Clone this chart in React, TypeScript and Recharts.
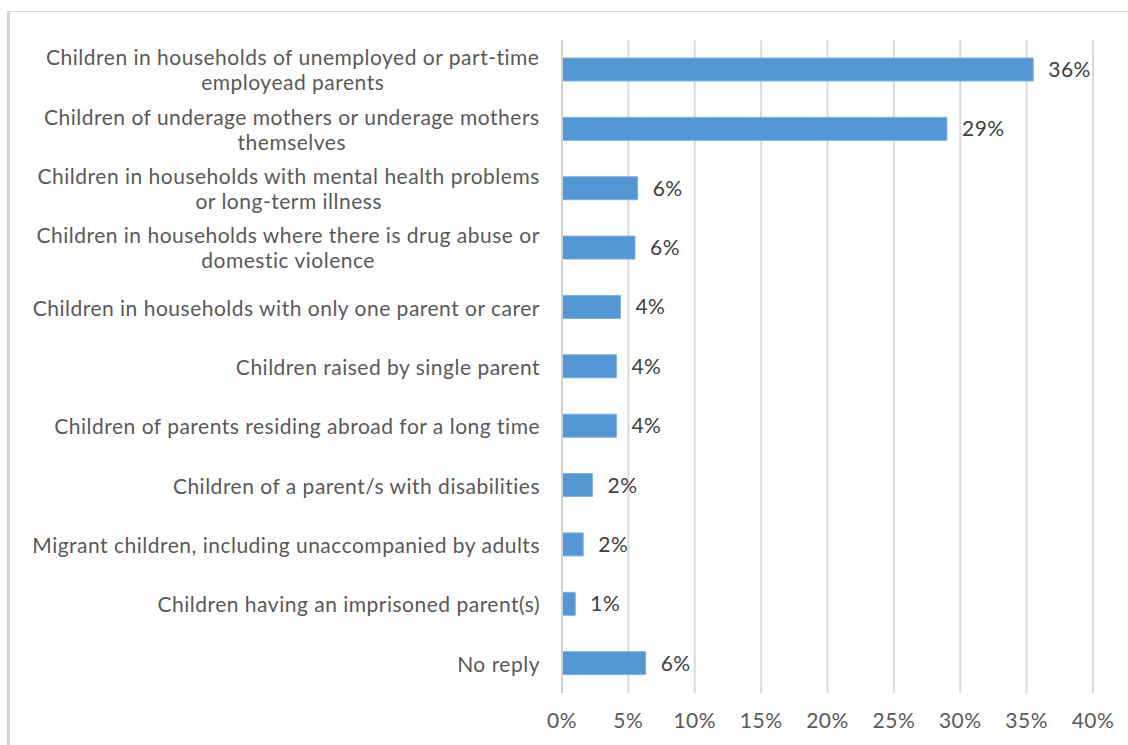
import React from 'react';
import { BarChart, Bar, XAxis, YAxis, CartesianGrid, LabelList } from 'recharts';

const categories = [
    'Children in households of unemployed or part-time\nemployead parents',
    'Children of underage mothers or underage mothers\nthemselves',
    'Children in households with mental health problems\nor long-term illness',
    'Children in households where there is drug abuse or\ndomestic violence',
    'Children in households with only one parent or carer',
    'Children raised by single parent',
    'Children of parents residing abroad for a long time',
    'Children of a parent/s with disabilities',
    'Migrant children, including unaccompanied by adults',
    'Children having an imprisoned parent(s)',
    'No reply',
];

// share of respondents
const shares = [0.355, 0.29, 0.057, 0.055, 0.044, 0.041, 0.041, 0.023, 0.016, 0.01, 0.063];

// labels as printed on the chart
const valueLabels = ['36%', '29%', '6%', '6%', '4%', '4%', '4%', '2%', '2%', '1%', '6%'];

const xTicks = [0, 0.05, 0.1, 0.15, 0.2, 0.25, 0.3, 0.35, 0.4];

const data = categories.map((name, i) => ({ name, share: shares[i], label: valueLabels[i] }));

const FONT = 'Lato, "Open Sans", sans-serif';
const FONT_SIZE = 21;
const SPACING = 0.5;
const textStyle = { fontFamily: FONT, fontSize: FONT_SIZE, letterSpacing: SPACING };

let ctx: CanvasRenderingContext2D | null = null;
const measure = (s: string) => {
    if (!ctx) ctx = document.createElement('canvas').getContext('2d');
    if (!ctx) return s.length * 10;
    ctx.font = `${FONT_SIZE}px Lato`;
    return ctx.measureText(s).width + s.length * SPACING;
};

const CategoryTick = (props: any) => {
    const { x, y, payload } = props;
    const lines: string[] = String(payload.value).split('\n');
    if (lines.length === 1) {
        return (
            <text x={x} y={y} textAnchor="end" dominantBaseline="central" style={textStyle} fill="#595959">
                {lines[0]}
            </text>
        );
    }
    const w = Math.max(...lines.map(measure));
    const cx = x - w / 2;
    return (
        <g>
            {lines.map((l, i) => (
                <text key={i} x={cx} y={y - 13 + i * 25} textAnchor="middle" dominantBaseline="central"
                    style={textStyle} fill="#595959">
                    {l}
                </text>
            ))}
        </g>
    );
};

const App: React.FC = () => {
    return (
        <div style={{ position: 'absolute', left: 0, top: 0, width: 1128, height: 745, background: '#fff', overflow: 'hidden' }}>
            <div style={{ position: 'absolute', left: 7, top: 11, width: 1140, height: 760, borderLeft: '3px solid #d4d4d4', borderTop: '1px solid #d9d9d9' }} />
            <div style={{ position: 'absolute', left: 0, top: 0 }}>
                <BarChart
                    width={1128}
                    height={745}
                    layout="vertical"
                    data={data}
                    margin={{ top: 40, right: 35, left: 0, bottom: 0 }}
                >
                    <CartesianGrid horizontal={false} stroke="#d9d9d9" strokeWidth={2} />
                    <XAxis
                        type="number"
                        domain={[0, 0.4]}
                        ticks={xTicks}
                        tickFormatter={(v: number) => `${Math.round(v * 100)}%`}
                        axisLine={false}
                        tickLine={false}
                        tickSize={0}
                        tickMargin={20}
                        height={52}
                        tick={{ ...textStyle, fill: '#595959' }}
                    />
                    <YAxis
                        type="category"
                        dataKey="name"
                        width={562}
                        axisLine={{ stroke: '#d0d0d0', strokeWidth: 2 }}
                        tickLine={false}
                        tickSize={0}
                        tickMargin={22}
                        interval={0}
                        tick={<CategoryTick />}
                    />
                    <Bar dataKey="share" fill="#5296d3" stroke="#7db3e2" strokeWidth={1} barSize={23} isAnimationActive={false}>
                        <LabelList dataKey="label" position="right" offset={15}
                            style={{ ...textStyle, fill: '#404040' }} />
                    </Bar>
                </BarChart>
            </div>
        </div>
    );
};

export default App;
